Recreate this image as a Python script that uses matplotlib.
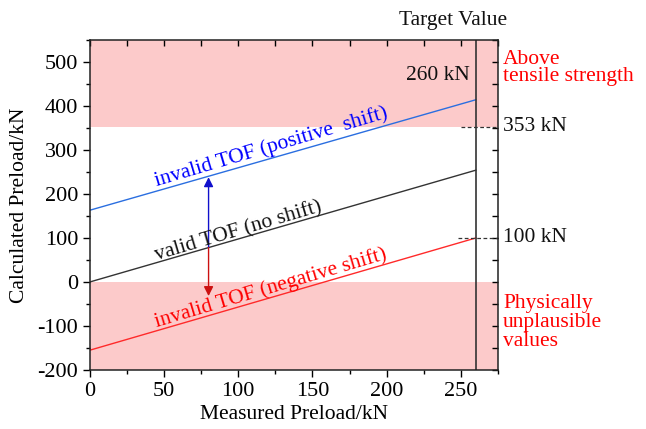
import numpy as np
import matplotlib.pyplot as plt
from matplotlib.ticker import MultipleLocator

plt.rcParams['font.family'] = ['Liberation Serif', 'DejaVu Serif']
plt.rcParams['axes.unicode_minus'] = False

# Data
measured = [0, 260]
no_shift = [0, 254]
pos_shift = [163, 414]
neg_shift = [-155, 100]
target = 260
tensile = 353
lower_mark = 100
arrow_x = 80
arrow_up = [78, 238]
arrow_down = [78, -32]

fig = plt.figure(figsize=(6.46, 4.29), dpi=100)
ax = fig.add_axes([0.139, 0.1375, 0.632, 0.7695])
ax.set_xlim(0, 275)
ax.set_ylim(-200, 550)

# shaded invalid regions
pink = '#fccaca'
ax.axhspan(tensile, 550, color=pink, lw=0, zorder=0)
ax.axhspan(-200, 0, color=pink, lw=0, zorder=0)

ax.plot(measured, pos_shift, color='#2a6ee0', lw=1.0)
ax.plot(measured, no_shift, color='#333333', lw=1.0)
ax.plot(measured, neg_shift, color='#ff2a2a', lw=1.0)
ax.axvline(target, color='#333333', lw=1.2)

# dashed guides to the right axis
ax.plot([250, 275], [tensile, tensile], color='#333333', lw=0.9, ls=(0, (3, 2)), clip_on=False)
ax.plot([248, 275], [lower_mark, lower_mark], color='#333333', lw=0.9, ls=(0, (3, 2)), clip_on=False)

ax.annotate('', xy=(arrow_x, arrow_up[1]), xytext=(arrow_x, arrow_up[0]),
            arrowprops=dict(arrowstyle='-|>', color='#1010cc', lw=1.0, mutation_scale=14, shrinkA=0, shrinkB=0))
ax.annotate('', xy=(arrow_x, arrow_down[1]), xytext=(arrow_x, arrow_down[0]),
            arrowprops=dict(arrowstyle='-|>', color='#cc1010', lw=1.0, mutation_scale=14, shrinkA=0, shrinkB=0))

fs = 15.5
rot = 16.5
ax.text(122, 307, 'invalid TOF (positive  shift)', color='blue', rotation=rot,
        ha='center', va='center', rotation_mode='anchor', fontsize=fs)
ax.text(100, 114, 'valid TOF (no shift)', color='#111111', rotation=rot,
        ha='center', va='center', rotation_mode='anchor', fontsize=fs)
ax.text(122, -14, 'invalid TOF (negative shift)', color='red', rotation=rot,
        ha='center', va='center', rotation_mode='anchor', fontsize=fs)
ax.text(256, 470, '260 kN', ha='right', va='center', fontsize=fs, color='#111111')
ax.text(245, 1.03, 'Target Value', transform=ax.get_xaxis_transform(),
        ha='center', va='bottom', fontsize=fs, color='#111111')

tr = ax.get_yaxis_transform()
ax.text(1.012, 486, 'Above\ntensile strength', transform=tr, color='red',
        ha='left', va='center', fontsize=fs, linespacing=0.9)
ax.text(1.012, tensile, '353 kN', transform=tr, ha='left', va='center', fontsize=fs, color='#111111')
ax.text(1.012, lower_mark, '100 kN', transform=tr, ha='left', va='center', fontsize=fs, color='#111111')
ax.text(1.012, -93, 'Physically\nunplausible\nvalues', transform=tr, color='red',
        ha='left', va='center', fontsize=fs, linespacing=1.0)

ax.set_xlabel('Measured Preload/kN', fontsize=fs, labelpad=3)
ax.set_ylabel('Calculated Preload/kN', fontsize=fs, labelpad=6)

ax.xaxis.set_major_locator(MultipleLocator(50))
ax.xaxis.set_minor_locator(MultipleLocator(25))
ax.yaxis.set_major_locator(MultipleLocator(100))
ax.yaxis.set_minor_locator(MultipleLocator(50))
ax.tick_params(which='both', direction='out', top=False, right=False, width=1.0, labelsize=16)
ax.tick_params(which='major', length=5)
ax.tick_params(which='minor', length=3)

for s in ax.spines.values():
    s.set_linewidth(1.1)
    s.set_color('#222222')

# mirrored ticks on top and right, pointing in
top = ax.secondary_xaxis('top')
top.xaxis.set_major_locator(MultipleLocator(25))
top.tick_params(direction='in', length=4, width=1.0, labeltop=False)
top.spines['top'].set_visible(False)
right = ax.secondary_yaxis('right')
right.yaxis.set_major_locator(MultipleLocator(50))
right.tick_params(direction='in', length=4, width=1.0, labelright=False)
right.spines['right'].set_visible(False)

fig.savefig('out.png', dpi=100)
